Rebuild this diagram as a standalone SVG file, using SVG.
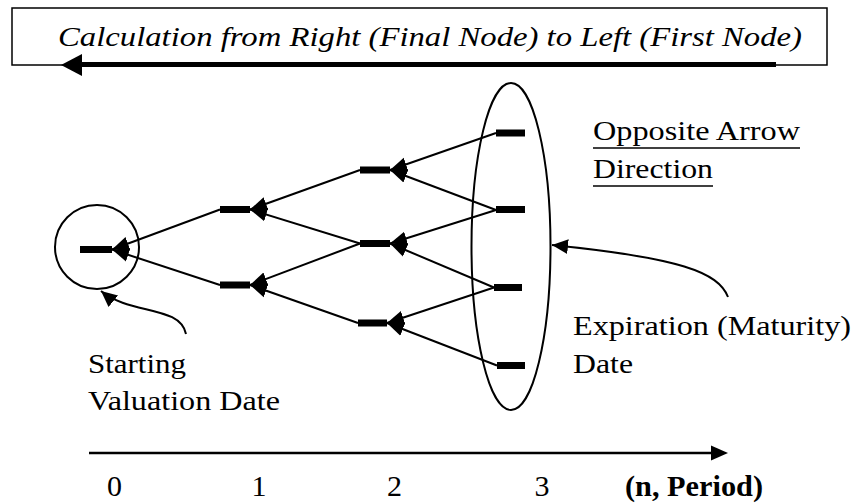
<svg xmlns="http://www.w3.org/2000/svg" width="854" height="504" viewBox="0 0 854 504">
<defs>
<style>
.bar{fill:#000}
.ln{stroke:#000;stroke-width:2;fill:none}
.edge{stroke:#000;stroke-width:2;fill:none;marker-end:url(#ah)}
.call{stroke:#000;stroke-width:2;fill:none;marker-end:url(#ah2)}
</style>
<marker id="ah" markerUnits="userSpaceOnUse" markerWidth="18" markerHeight="16" viewBox="0 0 18 16" refX="17" refY="8" orient="auto">
<path d="M0,1 L17,8 L0,15 z" fill="#000"/>
</marker>
<marker id="ah2" markerUnits="userSpaceOnUse" markerWidth="18" markerHeight="18" viewBox="0 0 18 18" refX="16" refY="9" orient="auto">
<path d="M0,1.5 L16,9 L0,16.5 z" fill="#000"/>
</marker>
</defs>
<rect width="854" height="504" fill="#fff"/>

<g font-family="Liberation Serif, Times New Roman, serif" font-size="28" fill="#000">
<g id="title">
<rect x="12" y="8" width="815" height="57" fill="none" stroke="#000" stroke-width="1.5"/>
<text x="58" y="46" font-style="italic" textLength="744" lengthAdjust="spacingAndGlyphs">Calculation from Right (Final Node) to Left (First Node)</text>
<line x1="776" y1="64.5" x2="78" y2="64.5" stroke="#000" stroke-width="5"/>
<polygon points="61,65 82,54 82,76" fill="#000"/>
</g>

<g id="connectors">
<line class="edge" x1="496" y1="133" x2="390" y2="170"/>
<line class="edge" x1="496" y1="210" x2="390" y2="170"/>
<line class="edge" x1="496" y1="210" x2="390" y2="243.5"/>
<line class="edge" x1="494" y1="287.5" x2="390" y2="243.5"/>
<line class="edge" x1="494" y1="287.5" x2="387" y2="323"/>
<line class="edge" x1="497" y1="365.5" x2="387" y2="323"/>
<line class="edge" x1="360" y1="170" x2="250" y2="209.5"/>
<line class="edge" x1="360" y1="243.5" x2="250" y2="209.5"/>
<line class="edge" x1="360" y1="243.5" x2="250" y2="285"/>
<line class="edge" x1="358" y1="323" x2="250" y2="285"/>
<line class="edge" x1="220" y1="209.5" x2="112" y2="249.5"/>
<line class="edge" x1="220" y1="285" x2="112" y2="249.5"/>
</g>

<g id="node0">
<circle cx="97" cy="247" r="42" class="ln"/>
<rect class="bar" x="80" y="246" width="32" height="7"/>
</g>
<g id="node1a"><rect class="bar" x="220" y="206" width="30" height="7"/></g>
<g id="node1b"><rect class="bar" x="220" y="281.5" width="30" height="7"/></g>
<g id="node2a"><rect class="bar" x="360" y="166.5" width="30" height="7"/></g>
<g id="node2b"><rect class="bar" x="360" y="240" width="30" height="7"/></g>
<g id="node2c"><rect class="bar" x="358" y="319.5" width="29" height="7"/></g>

<g id="expiry">
<ellipse cx="511" cy="246.5" rx="39.5" ry="163.5" class="ln"/>
<rect class="bar" x="496" y="129.5" width="29" height="7"/>
<rect class="bar" x="496" y="206" width="29" height="7"/>
<rect class="bar" x="494" y="284" width="28" height="7"/>
<rect class="bar" x="497" y="362" width="28" height="7"/>
</g>

<g id="opposite-label">
<text x="593" y="140" textLength="207" lengthAdjust="spacingAndGlyphs">Opposite Arrow</text>
<line x1="593" y1="148" x2="800" y2="148" stroke="#000" stroke-width="1.5"/>
<text x="593" y="178" textLength="120" lengthAdjust="spacingAndGlyphs">Direction</text>
<line x1="593" y1="186" x2="713" y2="186" stroke="#000" stroke-width="1.5"/>
</g>

<g id="expiration-label">
<path class="call" d="M728,297 C718,272 680,258 552,245"/>
<text x="573" y="335" textLength="278" lengthAdjust="spacingAndGlyphs">Expiration (Maturity)</text>
<text x="573" y="373" textLength="60" lengthAdjust="spacingAndGlyphs">Date</text>
</g>

<g id="starting-label">
<path class="call" d="M186,334 C180,305 130,315 101,291"/>
<text x="88" y="373" textLength="98" lengthAdjust="spacingAndGlyphs">Starting</text>
<text x="88" y="410" textLength="192" lengthAdjust="spacingAndGlyphs">Valuation Date</text>
</g>

<g id="axis">
<line x1="89" y1="453" x2="714" y2="453" stroke="#000" stroke-width="2.5"/>
<polygon points="728,453 711,445.5 711,460.5" fill="#000"/>
<g font-size="30">
<text x="114.5" y="496" text-anchor="middle">0</text>
<text x="259" y="496" text-anchor="middle">1</text>
<text x="394.5" y="496" text-anchor="middle">2</text>
<text x="542" y="496" text-anchor="middle">3</text>
<text x="625" y="496" font-weight="bold" textLength="138" lengthAdjust="spacingAndGlyphs">(n, Period)</text>
</g>
</g>
</g>
</svg>
